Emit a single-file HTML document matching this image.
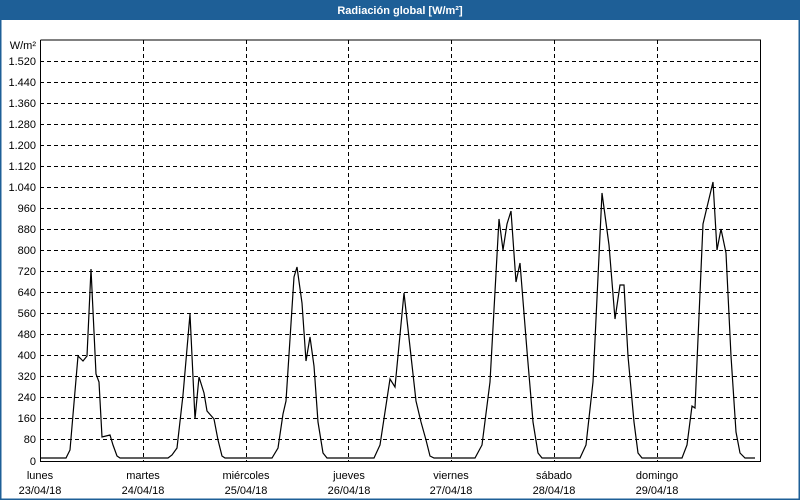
<!DOCTYPE html>
<html><head><meta charset="utf-8"><style>
html,body{margin:0;padding:0;background:#fff}
svg{display:block}
text{font-family:"Liberation Sans","DejaVu Sans",sans-serif;font-size:11px;fill:#000}
</style></head><body>
<svg width="800" height="500" viewBox="0 0 800 500" xmlns="http://www.w3.org/2000/svg">
<rect x="0" y="0" width="800" height="500" fill="#fff"/>
<rect x="0.5" y="0.5" width="799" height="499" fill="none" stroke="#1e5f97" stroke-width="2"/>
<rect x="0" y="0" width="800" height="20" fill="#1e5f97"/>
<text x="400" y="14" text-anchor="middle" style="font-weight:bold;fill:#fff">Radiación global [W/m²]</text>
<g stroke="#000" stroke-width="1" stroke-dasharray="4,3" fill="none">
<path d="M40 439.5H760M40 418.5H760M40 397.5H760M40 376.5H760M40 355.5H760M40 334.5H760M40 313.5H760M40 292.5H760M40 271.5H760M40 250.5H760M40 229.5H760M40 208.5H760M40 187.5H760M40 166.5H760M40 145.5H760M40 124.5H760M40 103.5H760M40 82.5H760M40 61.5H760"/>
<path d="M143.5 40V461M246.5 40V461M348.5 40V461M451.5 40V461M554.5 40V461M657.5 40V461"/>
</g>
<path d="M40.5 40V461.5H760.5V40H40.5" fill="none" stroke="#000" stroke-width="1"/>
<g text-anchor="end">
<text x="36" y="49">W/m²</text>
<text x="36" y="65">1.520</text><text x="36" y="86">1.440</text><text x="36" y="107">1.360</text><text x="36" y="128">1.280</text><text x="36" y="149">1.200</text><text x="36" y="170">1.120</text><text x="36" y="191">1.040</text><text x="36" y="212">960</text><text x="36" y="233">880</text><text x="36" y="254">800</text><text x="36" y="275">720</text><text x="36" y="296">640</text><text x="36" y="317">560</text><text x="36" y="338">480</text><text x="36" y="359">400</text><text x="36" y="380">320</text><text x="36" y="401">240</text><text x="36" y="422">160</text><text x="36" y="443">80</text><text x="36" y="465">0</text>
</g>
<g text-anchor="middle">
<text x="40" y="479">lunes</text><text x="40" y="494">23/04/18</text>
<text x="143" y="479">martes</text><text x="143" y="494">24/04/18</text>
<text x="246" y="479">miércoles</text><text x="246" y="494">25/04/18</text>
<text x="349" y="479">jueves</text><text x="349" y="494">26/04/18</text>
<text x="451" y="479">viernes</text><text x="451" y="494">27/04/18</text>
<text x="554" y="479">sábado</text><text x="554" y="494">28/04/18</text>
<text x="657" y="479">domingo</text><text x="657" y="494">29/04/18</text>
</g>
<polyline fill="none" stroke="#000" stroke-width="1.2" points="
41,458 66,458 70,450 78,356 83,361 87,356 91,269 96,374 99,382 102,437 110,435 113,445 117,456 120,458
168,458 172,455 177,448 183,395 190,314 195,419 199,377 204,393 207,411 214,419 218,440 222,456 225,458
272,458 278,448 283,414 286,401 294,277 297,267 302,303 306,361 310,337 314,366 318,422 323,453 327,458
374,458 380,445 390,379 395,387 404,293 411,356 416,401 421,422 426,440 430,456 434,458
475,458 482,445 490,382 499,219 503,250 507,224 511,211 516,282 520,263 527,351 533,422 538,453 542,458
580,458 586,445 593,382 602,193 609,245 615,319 620,285 624,285 628,356 634,422 638,453 642,458
682,458 687,445 692,406 695,408 703,224 713,182 717,250 721,229 726,253 731,356 736,432 740,453 745,458 755,458"/>
</svg>
</body></html>
